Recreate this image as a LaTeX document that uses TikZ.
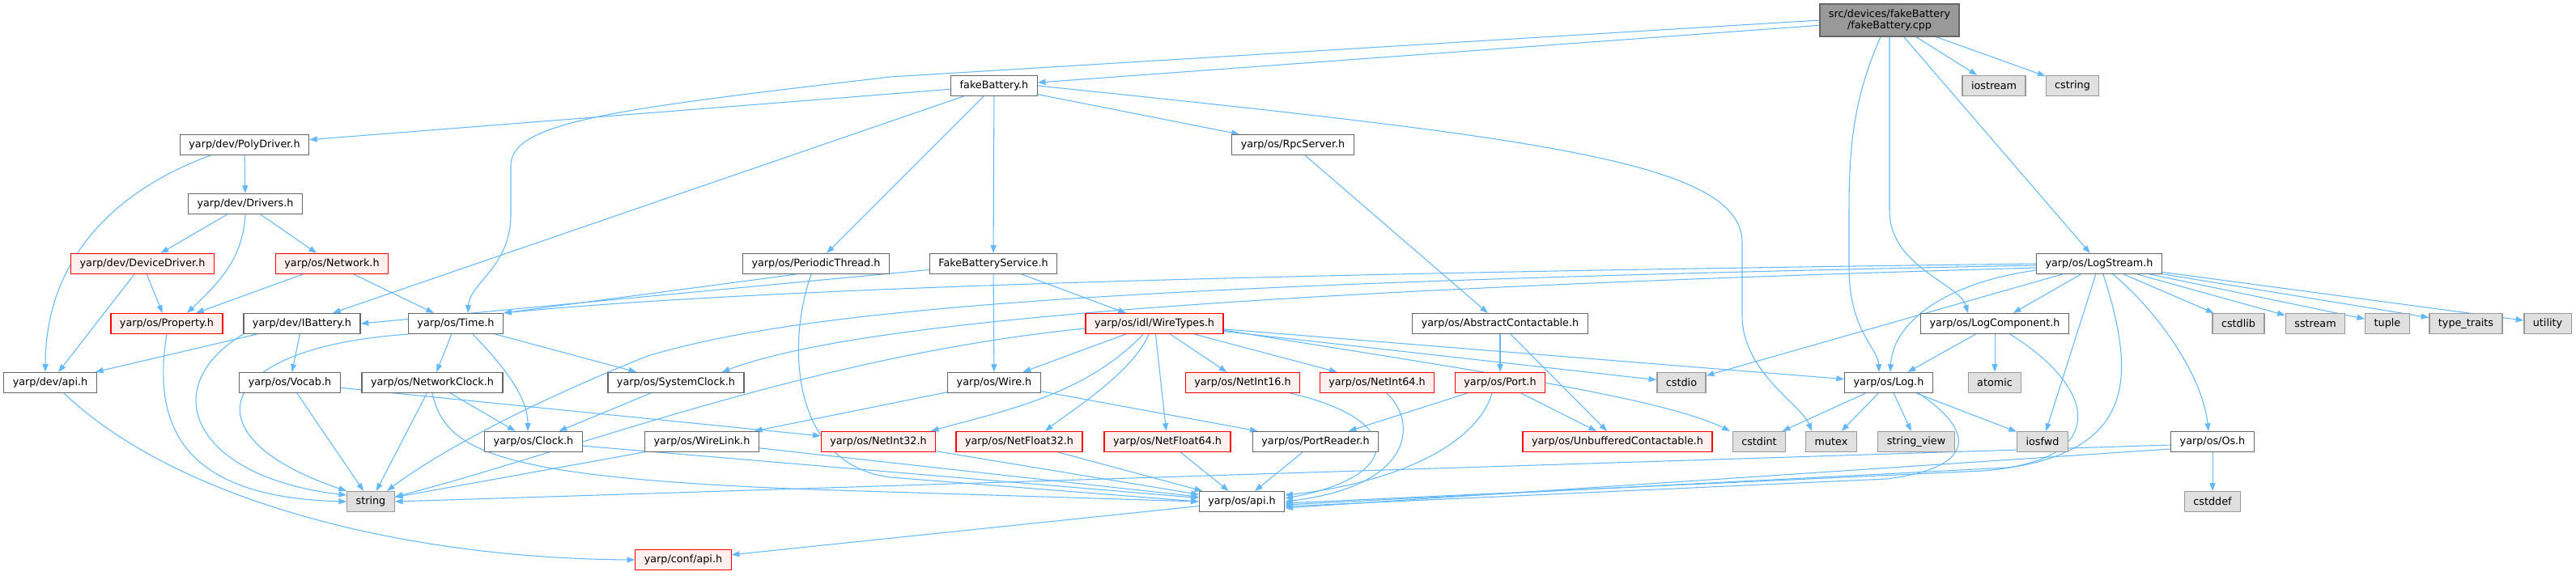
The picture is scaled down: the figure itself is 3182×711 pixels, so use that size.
\documentclass[tikz,border=0pt]{standalone}
\usepackage{fontspec}
\setmainfont{DejaVu Sans}
\usepackage{tikz}
\usetikzlibrary{arrows.meta,calc,backgrounds}

\definecolor{linkblue}{HTML}{63B8FF}
\definecolor{boxgrey}{HTML}{666666}
\definecolor{extfill}{HTML}{E0E0E0}
\definecolor{extline}{HTML}{999999}
\definecolor{redfill}{HTML}{FFF0F0}
\definecolor{redline}{HTML}{FF0000}

\tikzset{
  hdr/.style={draw=boxgrey, fill=white, line width=0.7pt, minimum height=0.5cm,
    inner xsep=0.22cm, inner ysep=0pt, font=\fontsize{7.26}{8.5}\selectfont},
  hdrred/.style={hdr, draw=redline, fill=redfill},
  sysinc/.style={hdr, draw=extline, fill=extfill},
  mainfile/.style={hdr, draw=boxgrey, fill=extline, minimum height=0.8cm, align=center},
  dep/.style={draw=linkblue, line width=0.6pt, -{Triangle[length=5.5pt,width=4pt]}}
}

\begin{document}
\begin{tikzpicture}[x=0.02cm,y=-0.02cm]

  \useasboundingbox (0,0) rectangle (3182,711);

  % Source file and first level
  \node[mainfile] (cpp) at (2334,25) {src/devices/fakeBattery\\/fakeBattery.cpp};
  \node[sysinc] (iostream) at (2463,106) {iostream};
  \node[sysinc] (cstring) at (2560,106) {cstring};
  \node[hdr] (fakeBattery) at (1228,106) {fakeBattery.h};

  % Rows below
  \node[hdr] (PolyDriver) at (302,179) {yarp/dev/PolyDriver.h};
  \node[hdr] (RpcServer) at (1597,179) {yarp/os/RpcServer.h};
  \node[hdr] (Drivers) at (303,252) {yarp/dev/Drivers.h};
  \node[hdrred] (DeviceDriver) at (176,326) {yarp/dev/DeviceDriver.h};
  \node[hdrred] (Network) at (410,326) {yarp/os/Network.h};
  \node[hdr] (PeriodicThread) at (1008,326) {yarp/os/PeriodicThread.h};
  \node[hdr] (FakeBatteryService) at (1227,326) {FakeBatteryService.h};
  \node[hdr] (LogStream) at (2593,326) {yarp/os/LogStream.h};

  \node[hdrred] (Property) at (206,400) {yarp/os/Property.h};
  \node[hdr] (IBattery) at (373,400) {yarp/dev/IBattery.h};
  \node[hdr] (Time) at (563,400) {yarp/os/Time.h};
  \node[hdrred] (WireTypes) at (1426,400) {yarp/os/idl/WireTypes.h};
  \node[hdr] (AbstractContactable) at (1853,400) {yarp/os/AbstractContactable.h};
  \node[hdr] (LogComponent) at (2464,400) {yarp/os/LogComponent.h};
  \node[sysinc] (cstdlib) at (2765,400) {cstdlib};
  \node[sysinc] (sstream) at (2860,400) {sstream};
  \node[sysinc] (tuple) at (2949,400) {tuple};
  \node[sysinc] (typetraits) at (3046,400) {type\_traits};
  \node[sysinc] (utility) at (3147,400) {utility};

  \node[hdr] (devapi) at (62,473) {yarp/dev/api.h};
  \node[hdr] (Vocab) at (358,473) {yarp/os/Vocab.h};
  \node[hdr] (NetworkClock) at (534,473) {yarp/os/NetworkClock.h};
  \node[hdr] (SystemClock) at (835,473) {yarp/os/SystemClock.h};
  \node[hdr] (Wire) at (1228,473) {yarp/os/Wire.h};
  \node[hdrred] (NetInt16) at (1535,473) {yarp/os/NetInt16.h};
  \node[hdrred] (NetInt64) at (1701,473) {yarp/os/NetInt64.h};
  \node[hdrred] (Port) at (1853,473) {yarp/os/Port.h};
  \node[sysinc] (cstdio) at (2077,473) {cstdio};
  \node[hdr] (Log) at (2333,473) {yarp/os/Log.h};
  \node[sysinc] (atomic) at (2464,473) {atomic};

  \node[hdr] (Clock) at (659,546) {yarp/os/Clock.h};
  \node[hdr] (WireLink) at (867,546) {yarp/os/WireLink.h};
  \node[hdrred] (NetInt32) at (1085,546) {yarp/os/NetInt32.h};
  \node[hdrred] (NetFloat32) at (1259,546) {yarp/os/NetFloat32.h};
  \node[hdrred] (NetFloat64) at (1442,546) {yarp/os/NetFloat64.h};
  \node[hdr] (PortReader) at (1625,546) {yarp/os/PortReader.h};
  \node[hdrred] (Unbuffered) at (1998,546) {yarp/os/UnbufferedContactable.h};
  \node[sysinc] (cstdint) at (2173,546) {cstdint};
  \node[sysinc] (mutex) at (2262,546) {mutex};
  \node[sysinc] (stringview) at (2367,546) {string\_view};
  \node[sysinc] (iosfwd) at (2523,546) {iosfwd};
  \node[hdr] (Os) at (2733,546) {yarp/os/Os.h};

  \node[sysinc] (stdstring) at (458,620) {string};
  \node[hdr] (osapi) at (1534,620) {yarp/os/api.h};
  \node[sysinc] (cstddef) at (2733,620) {cstddef};
  \node[hdrred] (confapi) at (844,692) {yarp/conf/api.h};

  \begin{scope}[on background layer]
  % fakeBattery.cpp
  \draw[dep] (cpp) -- (fakeBattery);
  \draw[dep] (cpp.west) -- (1100,95) .. controls (760,135) and (631,150) .. (631,205)
    -- (631,265) .. controls (631,330) and (580,350) .. ($(Time.north)+(15,0)$);
  \draw[dep] ($(cpp.south)+(-11,0)$) .. controls (2290,120) and (2284,180) .. (2284,260)
    -- (2284,330) .. controls (2284,410) and (2320,430) .. ($(Log.north)+(-12,0)$);
  \draw[dep] (cpp.south) -- (2334,260) .. controls (2334,330) and (2420,350) .. ($(LogComponent.north)+(-33,0)$);
  \draw[dep] (cpp) -- (LogStream);
  \draw[dep] (cpp) -- (iostream);
  \draw[dep] (cpp) -- (cstring);

  % fakeBattery.h
  \draw[dep] (fakeBattery) -- (PolyDriver);
  \draw[dep] (fakeBattery) -- (IBattery);
  \draw[dep] (fakeBattery) -- (PeriodicThread);
  \draw[dep] (fakeBattery) -- (FakeBatteryService);
  \draw[dep] (fakeBattery) -- (RpcServer);
  \draw[dep] (fakeBattery.east) .. controls (1900,170) and (2152,200) .. (2152,300)
    -- (2152,390) .. controls (2152,460) and (2225,500) .. ($(mutex.north)+(-24,0)$);

  % yarp/dev
  \draw[dep] (PolyDriver) -- (Drivers);
  \draw[dep] ($(PolyDriver.south)+(-42,0)$) .. controls (130,240) and (56,330) .. ($(devapi.north)+(-6,0)$);
  \draw[dep] (Drivers) -- (DeviceDriver);
  \draw[dep] (Drivers) -- (Network);
  \draw[dep] (Drivers.south) .. controls (300,320) and (270,350) .. ($(Property.north)+(25,0)$);
  \draw[dep] (DeviceDriver) -- (Property);
  \draw[dep] (DeviceDriver) -- (devapi);
  \draw[dep] (Network) -- (Property);
  \draw[dep] (Network) -- (Time);
  \draw[dep] (Property.south) .. controls (185,540) and (240,615) .. (stdstring.west);
  \draw[dep] (IBattery) -- (devapi);
  \draw[dep] (IBattery) -- (Vocab);
  \draw[dep] (IBattery.south west) .. controls (190,480) and (240,590) .. ($(stdstring.west)+(0,-8)$);
  \draw[dep] ($(devapi.south)+(17,0)$) .. controls (220,620) and (500,690) .. (confapi.west);

  % yarp/os/Time.h and clocks
  \draw[dep] (Time.south west) .. controls (260,430) and (230,540) .. (stdstring.north west);
  \draw[dep] (Time) -- (NetworkClock);
  \draw[dep] ($(Time.south)+(21,0)$) .. controls (620,450) and (652,490) .. ($(Clock.north)+(-7,0)$);
  \draw[dep] (Time) -- (SystemClock);
  \draw[dep] (Vocab) -- (stdstring);
  \draw[dep] (Vocab) -- (NetInt32);
  \draw[dep] (NetworkClock) -- (stdstring);
  \draw[dep] (NetworkClock) -- (Clock);
  \draw[dep] (NetworkClock.south) .. controls (550,560) and (620,590) .. (1000,605) -- (osapi.west);
  \draw[dep] (SystemClock) -- (Clock);
  \draw[dep] (Clock) -- (osapi);
  \draw[dep] (WireLink) -- (stdstring);
  \draw[dep] (WireLink) -- (osapi);

  % PeriodicThread, FakeBatteryService, RpcServer
  \draw[dep] ($(PeriodicThread.south)+(-25,0)$) -- (Time.north east);
  \draw[dep] ($(PeriodicThread.south)+(-6,0)$) .. controls (970,430) and (980,575) .. (1100,590) -- (osapi.west);
  \draw[dep] (FakeBatteryService) -- (IBattery.east);
  \draw[dep] (FakeBatteryService) -- (Wire);
  \draw[dep] (FakeBatteryService) -- (WireTypes);
  \draw[dep] (RpcServer) -- (AbstractContactable);
  \draw[dep] (AbstractContactable) -- (Port);
  \draw[dep] (AbstractContactable) -- (Unbuffered);

  % WireTypes.h
  \draw[dep] (WireTypes) -- (Wire);
  \draw[dep] ($(WireTypes.south)+(-14,0)$) .. controls (1340,490) and (1230,510) .. ($(NetInt32.north)+(65,0)$);
  \draw[dep] ($(WireTypes.south)+(-7,0)$) .. controls (1400,460) and (1320,510) .. ($(NetFloat32.north)+(32,0)$);
  \draw[dep] (WireTypes) -- (NetFloat64);
  \draw[dep] (WireTypes) -- (NetInt16);
  \draw[dep] (WireTypes) -- (NetInt64);
  \draw[dep] ($(WireTypes.west)+(0,6)$) .. controls (1000,440) and (700,560) .. ($(stdstring.east)+(0,-6)$);
  \draw[dep] (WireTypes) -- (cstdio);
  \draw[dep] (WireTypes) -- (Log);
  \draw[dep] ($(WireTypes.east)+(0,8)$) .. controls (1800,455) and (2050,490) .. ($(cstdint.north)+(-36,0)$);

  % Wire.h, Port.h and the yarp/os/api.h fan-in
  \draw[dep] (Wire) -- (WireLink);
  \draw[dep] (Wire) -- (PortReader);
  \draw[dep] (Port) -- (PortReader);
  \draw[dep] (Port) -- (Unbuffered);
  \draw[dep] ($(Port.south)+(-10,0)$) .. controls (1820,560) and (1700,600) .. ($(osapi.east)+(0,-8)$);
  \draw[dep] ($(NetInt16.south)+(59,0)$) .. controls (1740,520) and (1730,590) .. ($(osapi.east)+(0,-4)$);
  \draw[dep] ($(NetInt64.south)+(12,0)$) .. controls (1750,520) and (1750,600) .. (osapi.east);
  \draw[dep] (NetInt32) -- (osapi);
  \draw[dep] (NetFloat32) -- (osapi);
  \draw[dep] (NetFloat64) -- (osapi);
  \draw[dep] (PortReader) -- (osapi);
  \draw[dep] (osapi) -- (confapi);

  % LogStream.h
  \draw[dep] (LogStream.west) .. controls (1800,335) and (1000,350) .. (Time.north east);
  \draw[dep] ($(LogStream.west)+(0,2)$) .. controls (1400,350) and (1000,380) .. (800,440)
    .. controls (650,500) and (540,560) .. ($(stdstring.north east)+(-10,0)$);
  \draw[dep] ($(LogStream.west)+(0,5)$) .. controls (1500,360) and (1050,400) .. ($(SystemClock.north east)+(-28,0)$);
  \draw[dep] (LogStream) -- (cstdio);
  \draw[dep] ($(LogStream.west)+(0,8)$) .. controls (2400,350) and (2338,400) .. ($(Log.north)+(2,0)$);
  \draw[dep] (LogStream) -- (LogComponent);
  \draw[dep] (LogStream) -- (iosfwd);
  \draw[dep] ($(LogStream.south)+(5,0)$) .. controls (2640,470) and (2640,565) .. (2450,582) -- ($(osapi.east)+(0,2)$);
  \draw[dep] ($(LogStream.south)+(17,0)$) .. controls (2660,380) and (2720,460) .. ($(Os.north)+(-5,0)$);
  \draw[dep] (LogStream) -- (cstdlib);
  \draw[dep] (LogStream) -- (sstream);
  \draw[dep] (LogStream) -- (tuple);
  \draw[dep] (LogStream) -- (typetraits);
  \draw[dep] (LogStream) -- (utility);

  % LogComponent.h, Log.h, Os.h
  \draw[dep] (LogComponent) -- (Log);
  \draw[dep] (LogComponent) -- (atomic);
  \draw[dep] ($(LogComponent.south)+(19,0)$) .. controls (2590,480) and (2600,560) .. (2480,578) -- ($(osapi.east)+(0,4)$);
  \draw[dep] (Log) -- (cstdint);
  \draw[dep] (Log) -- (mutex);
  \draw[dep] (Log) -- (stringview);
  \draw[dep] (Log) -- (iosfwd);
  \draw[dep] ($(Log.south)+(37,0)$) .. controls (2450,540) and (2430,580) .. (2330,592) -- ($(osapi.east)+(0,6)$);
  \draw[dep] ($(Os.west)+(0,4)$) -- (stdstring.east);
  \draw[dep] ($(Os.west)+(0,9)$) -- ($(osapi.east)+(0,8)$);
  \draw[dep] (Os) -- (cstddef);
  \end{scope}

\end{tikzpicture}
\end{document}
